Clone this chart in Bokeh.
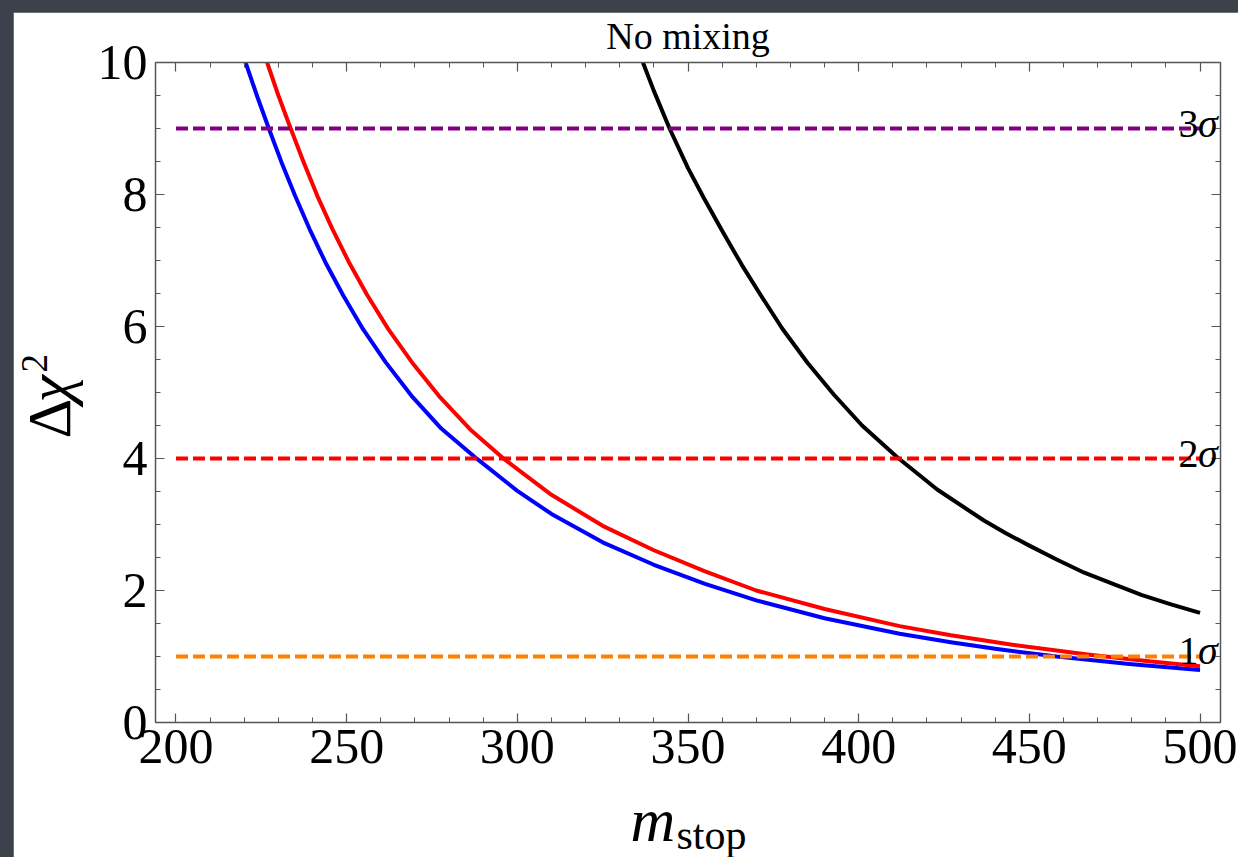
import numpy as np
from bokeh.plotting import figure
from bokeh.models import (Range1d, LinearAxis, FixedTicker, Label, Title,
                          CustomJSTickFormatter, GlobalInlineStyleSheet)
from bokeh.embed import file_html
from bokeh.resources import INLINE

# ---------------- data ----------------
m_blue = [220.4, 223.7, 227.2, 230.9, 234.9, 239.1, 243.8, 249.0, 254.8, 261.4,
          269.0, 277.8, 288.3, 300, 310, 325, 340, 355, 370, 390, 412, 427,
          440, 458, 480, 500]
chi_blue = [10.0, 9.5, 9.0, 8.49, 7.98, 7.48, 6.97, 6.47, 5.96, 5.46,
            4.95, 4.45, 3.99, 3.51, 3.16, 2.73, 2.39, 2.1, 1.85, 1.58, 1.345, 1.215,
            1.117, 1.0, 0.883, 0.794]

m_red = [226.7, 230.0, 233.6, 237.4, 241.4, 245.8, 250.7, 256.1, 262.2, 269.1,
         277.0, 286.2, 296.2, 310, 325, 340, 355, 370, 390, 412, 427, 445,
         467, 485, 500]
chi_red = [10.0, 9.5, 9.0, 8.49, 7.98, 7.48, 6.97, 6.47, 5.96, 5.46,
           4.95, 4.44, 3.99, 3.45, 2.98, 2.61, 2.29, 2.0, 1.72, 1.46, 1.322, 1.178,
           1.031, 0.928, 0.853]

m_black = [336.8, 340, 344.6, 350, 354.6, 360, 365.8, 371, 377.6, 385, 392.7,
           401, 411.3, 423, 436.7, 443, 450, 458, 466.1, 474.5, 483, 491.5, 500]
chi_black = [10.0, 9.57, 9.0, 8.4, 7.95, 7.45, 6.93, 6.5, 5.97, 5.45, 4.97,
             4.5, 4.02, 3.53, 3.06, 2.87, 2.68, 2.47, 2.27, 2.1, 1.93, 1.79, 1.66]

levels = [1, 4, 9]
level_digits = ["1", "2", "3"]
level_colors = ["#ff8000", "#ff0000", "#800080"]
level_m = [200, 500]

x_ticks = [200, 250, 300, 350, 400, 450, 500]
x_minor = list(range(200, 501, 10))
y_ticks = [0, 2, 4, 6, 8, 10]
y_minor = [i * 0.5 for i in range(0, 21)]

title_text = "No mixing"
x_label_main = "m"
x_label_sub = "stop"
y_label_parts = ["Δ", "χ", "2"]

# ---------------- figure ----------------
SERIF = "Liberation Serif"
FRAME = "#555555"

p = figure(width=1225, height=845,
           x_range=Range1d(194, 506), y_range=Range1d(0, 10),
           output_backend="svg", toolbar_location=None,
           min_border_left=142, min_border_right=18,
           min_border_top=50, min_border_bottom=135,
           background_fill_color="white", border_fill_color="white",
           margin=(12, 0, 0, 13))
p.outline_line_color = None
p.grid.visible = False
p.stylesheets = [GlobalInlineStyleSheet(
    css="html,body{margin:0;padding:0;background:#3d414c;overflow:hidden;}")]


def style_axis(ax, ticks, minor):
    ax.ticker = FixedTicker(ticks=ticks, minor_ticks=minor)
    ax.axis_line_color = FRAME
    ax.axis_line_width = 1.5
    ax.major_tick_line_color = FRAME
    ax.minor_tick_line_color = FRAME
    ax.major_tick_line_width = 1.2
    ax.minor_tick_line_width = 1.0
    ax.major_tick_in = 9
    ax.major_tick_out = 0
    ax.minor_tick_in = 5
    ax.minor_tick_out = 0
    ax.major_label_text_font = SERIF
    ax.major_label_text_font_size = "50px"
    ax.major_label_text_color = "black"


style_axis(p.xaxis[0], x_ticks, x_minor)
style_axis(p.yaxis[0], y_ticks, y_minor)
p.xaxis[0].major_label_standoff = 7
p.yaxis[0].major_label_standoff = 8

blank = CustomJSTickFormatter(code="return ''")
top_ax = LinearAxis(formatter=blank)
right_ax = LinearAxis(formatter=blank)
style_axis(top_ax, x_ticks, x_minor)
style_axis(right_ax, y_ticks, y_minor)
for ax in (top_ax, right_ax):
    ax.major_label_text_font_size = "1px"
    ax.major_label_standoff = 0
p.add_layout(top_ax, "above")
p.add_layout(right_ax, "right")

# title
p.title.text = title_text
p.title.align = "center"
p.title.text_font = SERIF
p.title.text_font_size = "38px"
p.title.text_font_style = "normal"
p.title.text_color = "black"
p.title.vertical_align = "top"
p.title.standoff = -96

# x axis label: italic m with subscript "stop"
t_m = Title(text=x_label_main, align="left", offset=475, standoff=-176,
            vertical_align="bottom", text_font=SERIF, text_font_size="62px",
            text_font_style="italic", text_color="black")
t_sub = Title(text=x_label_sub, align="left", offset=521, standoff=-185,
              vertical_align="bottom", text_font=SERIF, text_font_size="42px",
              text_font_style="normal", text_color="black")
p.add_layout(t_m, "below")
p.add_layout(t_sub, "below")

# y axis label: upright Delta, italic chi, superscript 2 (rotated, left panel)
t_d = Title(text=y_label_parts[0], align="left", offset=284, standoff=-160,
            vertical_align="top", text_font=SERIF, text_font_size="62px",
            text_font_style="normal", text_color="black")
t_chi = Title(text=y_label_parts[1], align="left", offset=320, standoff=-160,
              vertical_align="top", text_font=SERIF, text_font_size="62px",
              text_font_style="italic", text_color="black")
t_two = Title(text=y_label_parts[2], align="left", offset=350, standoff=-146,
              vertical_align="top", text_font=SERIF, text_font_size="37px",
              text_font_style="normal", text_color="black")
p.add_layout(t_d, "left")
p.add_layout(t_chi, "left")
p.add_layout(t_two, "left")

# ---------------- curves ----------------
p.line(m_blue, chi_blue, line_color="#0000ff", line_width=4, line_join="round")
p.line(m_red, chi_red, line_color="#ff0000", line_width=4, line_join="round")
p.line(m_black, chi_black, line_color="#000000", line_width=4, line_join="round")

# ---------------- sigma levels ----------------
sig_base = [1.09, 4.07, 9.07]
for lvl, dig, col, yb in zip(levels, level_digits, level_colors, sig_base):
    p.line(level_m, [lvl, lvl], line_color=col, line_width=4, line_dash="12 5")
    p.add_layout(Label(x=493.7, y=yb, text=dig, text_font=SERIF,
                       text_font_size="40px", text_color="black",
                       text_baseline="alphabetic", text_align="left"))
    p.add_layout(Label(x=499.4, y=yb, text="σ", text_font=SERIF,
                       text_font_size="40px", text_font_style="italic",
                       text_color="black",
                       text_baseline="alphabetic", text_align="left"))

open("out.html", "w").write(file_html(p, INLINE))
